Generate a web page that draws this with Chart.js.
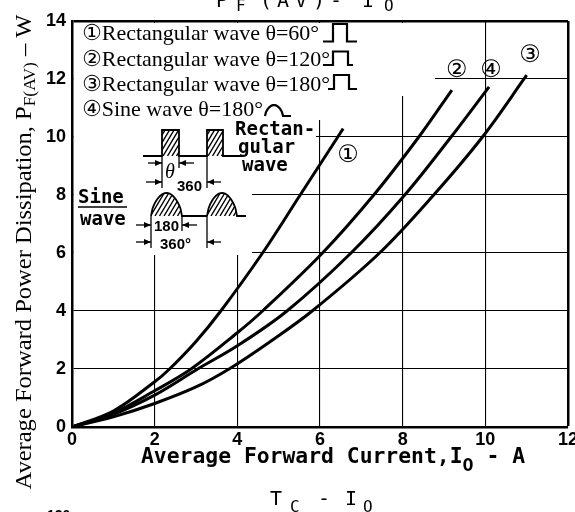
<!DOCTYPE html>
<html>
<head>
<meta charset="utf-8">
<script src="https://cdn.jsdelivr.net/npm/chart.js@4.4.0/dist/chart.umd.min.js"></script>
<style>
  html, body { margin: 0; padding: 0; background: #fff; }
  #wrap { width: 575px; height: 512px; position: relative; }
</style>
</head>
<body>
<div id="wrap"><canvas id="pfChart"></canvas></div>
<script>
// values: I0 (A) and PF(AV) (W)
const rect60X  = [0, 1, 2, 2.36, 3, 3.6, 4.61, 5.52, 6.43, 6.56];
const rect60Y  = [0, 0.55, 1.56, 2, 2.95, 4, 6, 8, 10, 10.29];
const rect120X = [0, 1, 2, 2.88, 4, 4.61, 6.06, 7.3, 8.39, 9.19];
const rect120Y = [0, 0.48, 1.25, 2, 3.25, 4, 6, 8, 10, 11.62];
const rect180X = [0, 1, 2, 3, 3.8, 4.8, 5.81, 7.44, 8.75, 9.93, 11.0];
const rect180Y = [0, 0.35, 0.81, 1.38, 2, 2.95, 4, 6, 8, 10, 12.13];
const sine180X = [0, 1, 2, 3.04, 4, 5.2, 6.75, 8.05, 9.17, 10.09];
const sine180Y = [0, 0.44, 1.1, 2, 2.8, 4, 6, 8, 10, 11.73];

const xTicks = [0, 2, 4, 6, 8, 10, 12];
const yTicks = [0, 2, 4, 6, 8, 10, 12, 14];

const legendLines = [
  '①Rectangular wave θ=60°',
  '②Rectangular wave θ=120°',
  '③Rectangular wave θ=180°',
  '④Sine wave θ=180°'
];
// curve tags, placed in data units
const tagText = ['①', '②', '③', '④'];
const tagX = [6.68, 9.31, 11.08, 10.14];
const tagY = [9.36, 12.28, 12.8, 12.28];

const series = [
  { label: legendLines[0], xs: rect60X, ys: rect60Y },
  { label: legendLines[1], xs: rect120X, ys: rect120Y },
  { label: legendLines[2], xs: rect180X, ys: rect180Y },
  { label: legendLines[3], xs: sine180X, ys: sine180Y }
];

const MONO_B = 'bold 19px "DejaVu Sans Mono"';
const TICK_FONT = { family: 'Liberation Sans', weight: 'bold', size: 18 };

function partsWidth(ctx, parts) {
  let w = 0;
  parts.forEach(p => { ctx.font = p[1]; w += ctx.measureText(p[0]).width; });
  return w;
}
function drawParts(ctx, parts, x, y) {
  let cx = x;
  parts.forEach(p => {
    ctx.font = p[1];
    ctx.fillText(p[0], cx, y + (p[2] || 0));
    cx += ctx.measureText(p[0]).width;
  });
}
function drawFitted(ctx, parts, cx, y, width) {
  const w = partsWidth(ctx, parts);
  ctx.save();
  ctx.translate(cx - width / 2, y);
  ctx.scale(width / w, 1);
  drawParts(ctx, parts, 0, 0);
  ctx.restore();
}
function arrow(ctx, x0, x1, y) {
  ctx.beginPath(); ctx.moveTo(x0, y); ctx.lineTo(x1, y); ctx.stroke();
  const d = x1 > x0 ? -1 : 1;
  ctx.beginPath();
  ctx.moveTo(x1, y); ctx.lineTo(x1 + d * 7, y - 3); ctx.lineTo(x1 + d * 7, y + 3);
  ctx.closePath(); ctx.fill();
}
function vline(ctx, x, y0, y1) {
  ctx.beginPath(); ctx.moveTo(x, y0); ctx.lineTo(x, y1); ctx.stroke();
}
function hatch(ctx, shape, x0, y0, x1, y1) {
  ctx.save();
  ctx.beginPath(); shape(); ctx.clip();
  ctx.beginPath();
  const h = y1 - y0;
  for (let k = x0 - h; k < x1; k += 4.5) { ctx.moveTo(k, y1); ctx.lineTo(k + h * 0.6, y0); }
  ctx.lineWidth = 1.4; ctx.stroke();
  ctx.restore();
}
function bump(ctx, x0, x1, yb, h) {
  ctx.moveTo(x0, yb);
  for (let i = 0; i <= 20; i++) {
    const t = i / 20;
    const s = Math.pow(Math.sin(Math.PI * t), 0.6);
    ctx.lineTo(x0 + t * (x1 - x0), yb - h * s);
  }
}

// white area behind the legend and the waveform sketch
const maskPlugin = {
  id: 'mask',
  beforeDatasetsDraw(chart) {
    const ctx = chart.ctx;
    ctx.save();
    ctx.fillStyle = '#fff';
    ctx.fillRect(74, 23, 435 - 74, 96 - 23);
    ctx.fillRect(74, 96, 316 - 74, 139 - 96);
    ctx.fillRect(316, 96, 10, 24);
    ctx.fillRect(74, 139, 252 - 74, 255 - 139);
    ctx.restore();
  }
};

const decorPlugin = {
  id: 'decor',
  afterDraw(chart) {
    const ctx = chart.ctx;
    const sx = chart.scales.x, sy = chart.scales.y;
    ctx.save();
    ctx.fillStyle = '#000';
    ctx.strokeStyle = '#000';
    ctx.textBaseline = 'alphabetic';

    // top title, mostly cut off by the page edge
    ctx.font = '20px "DejaVu Sans Mono"';
    [['P', 216, 7], ['(', 260, 7], ['A', 277, 7], ['V', 295, 7], [')', 313, 7], ['-', 330, 7], ['I', 362, 7]]
      .forEach(c => ctx.fillText(c[0], c[1], c[2]));
    ctx.font = '16px "DejaVu Sans Mono"';
    ctx.fillText('F', 236, 11);
    ctx.fillText('O', 384, 11);

    // y axis title
    ctx.save();
    ctx.translate(31, 252);
    ctx.rotate(-Math.PI / 2);
    drawFitted(ctx, [
      ['Average Forward Power Dissipation, P', '24px "Liberation Serif"'],
      ['F(AV)', '17px "Liberation Serif"', 4],
      [' – W', '24px "Liberation Serif"']
    ], 0, 0, 475);
    ctx.restore();

    // x axis title
    drawFitted(ctx, [
      ['Average Forward Current,I', 'bold 21px "DejaVu Sans Mono"'],
      ['O', 'bold 18px "DejaVu Sans Mono"', 8],
      [' - A', 'bold 21px "DejaVu Sans Mono"']
    ], 333, 463, 384);

    // next figure's title below
    ctx.font = '20px "DejaVu Sans Mono"';
    ctx.fillText('T', 270, 505);
    ctx.fillText('-', 318, 505);
    ctx.fillText('I', 345, 505);
    ctx.font = '16px "DejaVu Sans Mono"';
    ctx.fillText('C', 290, 512);
    ctx.fillText('O', 363, 512);
    ctx.font = 'bold 14px "Liberation Sans"';
    ctx.fillText('120', 47, 520);

    // legend
    ctx.font = '22px "Liberation Serif", "DejaVu Sans"';
    const base = [40, 66, 91, 116];
    legendLines.forEach((t, i) => ctx.fillText(t, 82, base[i]));
    ctx.lineWidth = 2.2;
    const pulses = [[323, 333, 347, 357, 41.5, 24], [323, 333, 348, 353, 65, 51.5], [328, 334, 349, 357, 89, 75]];
    pulses.forEach(p => {
      ctx.beginPath();
      ctx.moveTo(p[0], p[4]); ctx.lineTo(p[1], p[4]); ctx.lineTo(p[1], p[5]);
      ctx.lineTo(p[2], p[5]); ctx.lineTo(p[2], p[4]); ctx.lineTo(p[3], p[4]);
      ctx.stroke();
    });
    ctx.beginPath();
    ctx.moveTo(258, 116); bump(ctx, 265, 283, 116, 11); ctx.lineTo(291, 116);
    ctx.stroke();

    // rectangular waveform sketch
    ctx.lineWidth = 1.8;
    ctx.beginPath();
    ctx.moveTo(143, 156); ctx.lineTo(162, 156); ctx.lineTo(162, 130); ctx.lineTo(179, 130);
    ctx.lineTo(179, 156); ctx.lineTo(207, 156); ctx.lineTo(207, 130); ctx.lineTo(223, 130);
    ctx.lineTo(223, 156); ctx.lineTo(243, 156);
    ctx.stroke();
    hatch(ctx, () => ctx.rect(162, 130, 17, 26), 162, 130, 179, 156);
    hatch(ctx, () => ctx.rect(207, 130, 16, 26), 207, 130, 223, 156);
    ctx.lineWidth = 1.3;
    vline(ctx, 162, 156, 188);
    vline(ctx, 179, 156, 168);
    vline(ctx, 207, 156, 188);
    arrow(ctx, 148, 162, 163);
    arrow(ctx, 194, 179, 163);
    arrow(ctx, 146, 162, 182);
    arrow(ctx, 221, 207, 182);
    ctx.font = 'italic 20px "Liberation Serif"';
    ctx.fillText('θ', 165, 178);
    ctx.font = 'bold 15px "Liberation Sans"';
    ctx.fillText('360', 177, 191);
    ctx.font = MONO_B;
    ctx.fillText('Rectan-', 235, 135);
    ctx.fillText('gular', 238, 153);
    ctx.fillText('wave', 242, 171);

    // sine waveform sketch
    ctx.lineWidth = 1.8;
    ctx.beginPath();
    ctx.moveTo(137, 216); bump(ctx, 151, 182, 216, 23); ctx.lineTo(207, 216);
    bump(ctx, 207, 237, 216, 23); ctx.lineTo(246, 216);
    ctx.stroke();
    hatch(ctx, () => bump(ctx, 151, 182, 216, 23), 151, 193, 182, 216);
    hatch(ctx, () => bump(ctx, 207, 237, 216, 23), 207, 193, 237, 216);
    ctx.lineWidth = 1.3;
    vline(ctx, 151, 216, 248);
    vline(ctx, 182, 216, 231);
    vline(ctx, 207, 216, 248);
    arrow(ctx, 136, 151, 225);
    arrow(ctx, 197, 182, 225);
    arrow(ctx, 136, 151, 242);
    arrow(ctx, 221, 207, 242);
    ctx.font = 'bold 15px "Liberation Sans"';
    ctx.fillText('180', 154, 231);
    ctx.fillText('360°', 160, 249);
    ctx.font = MONO_B;
    ctx.fillText('Sine', 78, 203);
    ctx.fillText('wave', 80, 225);
    ctx.lineWidth = 1.5;
    ctx.beginPath(); ctx.moveTo(78, 207); ctx.lineTo(127, 207); ctx.stroke();

    // curve tags
    ctx.font = '24px "DejaVu Sans"';
    ctx.textAlign = 'center';
    ctx.textBaseline = 'middle';
    tagText.forEach((t, i) => ctx.fillText(t, sx.getPixelForValue(tagX[i]), sy.getPixelForValue(tagY[i])));
    ctx.restore();
  }
};

new Chart(document.getElementById('pfChart'), {
  type: 'scatter',
  data: {
    datasets: series.map(s => ({
      label: s.label,
      data: s.xs.map((x, i) => ({ x: x, y: s.ys[i] })),
      showLine: true,
      borderColor: '#000',
      borderWidth: 3,
      pointRadius: 0,
      fill: false,
      tension: 0.35
    }))
  },
  options: {
    responsive: true,
    maintainAspectRatio: false,
    animation: false,
    layout: { padding: { left: 0, right: 7, top: 21, bottom: 55 } },
    plugins: { legend: { display: false }, tooltip: { enabled: false } },
    scales: {
      x: {
        type: 'linear',
        min: xTicks[0],
        max: xTicks[xTicks.length - 1],
        afterBuildTicks: s => { s.ticks = xTicks.map(v => ({ value: v })); },
        afterFit: s => { s.height = 30; s.paddingLeft = 0; s.paddingRight = 0; },
        ticks: { color: '#000', font: TICK_FONT, padding: 2, maxRotation: 0 },
        grid: {
          color: '#000',
          drawTicks: false,
          lineWidth: c => (c.tick && c.tick.value === 12 ? 2.5 : 1.1)
        },
        border: { color: '#000', width: 2.5 }
      },
      y: {
        type: 'linear',
        min: yTicks[0],
        max: yTicks[yTicks.length - 1],
        afterBuildTicks: s => { s.ticks = yTicks.map(v => ({ value: v })); },
        afterFit: s => { s.width = 72; s.paddingTop = 0; s.paddingBottom = 0; },
        ticks: { color: '#000', font: TICK_FONT, padding: 6 },
        grid: {
          color: '#000',
          drawTicks: false,
          lineWidth: c => (c.tick && c.tick.value === 14 ? 2.5 : 1.1)
        },
        border: { color: '#000', width: 2.5 }
      }
    }
  },
  plugins: [maskPlugin, decorPlugin]
});
</script>
</body>
</html>
